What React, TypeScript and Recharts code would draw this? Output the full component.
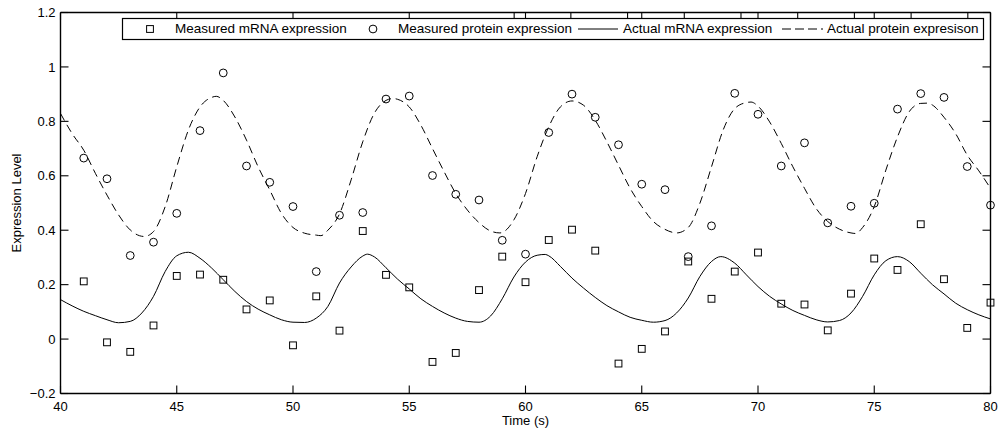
import {
  ComposedChart,
  Line,
  ReferenceLine,
  Scatter,
  XAxis,
  YAxis,
} from "recharts";

// measured samples, one per second
const MEASURED_T = [
  41, 42, 43, 44, 45, 46, 47, 48, 49, 50,
  51, 52, 53, 54, 55, 56, 57, 58, 59, 60,
  61, 62, 63, 64, 65, 66, 67, 68, 69, 70,
  71, 72, 73, 74, 75, 76, 77, 78, 79, 80,
];
const MRNA_MEASURED = [
  0.212, -0.012, -0.047, 0.05, 0.232, 0.237, 0.218, 0.109, 0.142, -0.023,
  0.157, 0.031, 0.397, 0.236, 0.19, -0.084, -0.051, 0.18, 0.303, 0.209,
  0.364, 0.402, 0.325, -0.09, -0.036, 0.028, 0.285, 0.148, 0.248, 0.318,
  0.13, 0.127, 0.032, 0.167, 0.296, 0.254, 0.422, 0.22, 0.041, 0.134,
];
const PROTEIN_MEASURED = [
  0.665, 0.589, 0.307, 0.356, 0.462, 0.766, 0.978, 0.636, 0.576, 0.487,
  0.248, 0.455, 0.465, 0.882, 0.893, 0.601, 0.532, 0.511, 0.363, 0.312,
  0.759, 0.9, 0.815, 0.714, 0.569, 0.549, 0.303, 0.416, 0.903, 0.826,
  0.636, 0.721, 0.427, 0.488, 0.499, 0.845, 0.902, 0.888, 0.634, 0.492,
];

// "actual" model curves
const MRNA_CURVE_T = [
  40, 40.5, 41, 41.5, 42, 42.5, 43, 43.5, 44, 44.5, 45, 45.5, 46, 46.5, 47, 47.5,
  48, 48.5, 49, 49.5, 50, 50.5, 51, 51.5, 52, 52.5, 53, 53.2, 53.5, 54, 54.5, 55,
  55.5, 56, 56.5, 57, 57.5, 58, 58.5, 59, 59.5, 60, 60.5, 60.85, 61, 61.5, 62,
  62.5, 63, 63.5, 64, 64.5, 65, 65.5, 66, 66.5, 67, 67.5, 68, 68.4, 69, 69.5, 70,
  70.5, 71, 71.5, 72, 72.5, 73, 73.5, 74, 74.5, 75, 75.5, 76, 76.5, 77, 77.5, 78,
  78.5, 79, 79.5, 80,
];
const MRNA_CURVE = [
  0.145, 0.122, 0.102, 0.086, 0.071, 0.06, 0.065, 0.096, 0.157, 0.248, 0.306, 0.319, 0.297, 0.261, 0.218, 0.175,
  0.138, 0.11, 0.089, 0.071, 0.062, 0.061, 0.077, 0.12, 0.206, 0.265, 0.305, 0.312, 0.302, 0.262, 0.22, 0.184,
  0.148, 0.12, 0.096, 0.077, 0.065, 0.062, 0.085, 0.148, 0.228, 0.283, 0.308, 0.311, 0.306, 0.267, 0.224,
  0.187, 0.153, 0.123, 0.1, 0.08, 0.069, 0.062, 0.068, 0.096, 0.151, 0.23, 0.285, 0.303, 0.279, 0.236, 0.193,
  0.157, 0.129, 0.105, 0.087, 0.071, 0.063, 0.068, 0.096, 0.157, 0.236, 0.288, 0.303, 0.285, 0.242, 0.2, 0.166,
  0.132, 0.108, 0.089, 0.074,
];
const PROTEIN_CURVE_T = [
  40, 40.5, 41, 41.5, 42, 42.5, 43, 43.6, 44, 44.5, 45, 45.5, 46, 46.5, 46.7, 47,
  47.5, 48, 48.5, 49, 49.5, 50, 50.5, 51, 51.2, 51.5, 52, 52.5, 53, 53.5, 54, 54.3,
  54.5, 55, 55.5, 56, 56.5, 57, 57.5, 58, 58.5, 58.9, 59.5, 60, 60.5, 61, 61.5, 62,
  62.5, 63, 63.5, 64, 64.5, 65, 65.5, 66, 66.5, 67, 67.5, 68, 68.5, 69, 69.5, 69.7,
  70, 70.5, 71, 71.5, 72, 72.5, 73, 73.5, 74, 74.2, 74.5, 75, 75.5, 76, 76.5, 77,
  77.3, 77.5, 78, 78.5, 79, 79.5, 80,
];
const PROTEIN_CURVE = [
  0.829, 0.755, 0.694, 0.609, 0.529, 0.456, 0.401, 0.377, 0.395, 0.486, 0.633, 0.768, 0.853, 0.888, 0.892, 0.877,
  0.816, 0.731, 0.633, 0.548, 0.462, 0.41, 0.389, 0.382, 0.38, 0.4, 0.46, 0.585, 0.725, 0.83, 0.877, 0.884,
  0.881, 0.853, 0.786, 0.7, 0.615, 0.535, 0.474, 0.428, 0.397, 0.39, 0.438, 0.535, 0.67, 0.78, 0.853, 0.875,
  0.859, 0.804, 0.725, 0.639, 0.554, 0.487, 0.432, 0.403, 0.39, 0.41, 0.499, 0.633, 0.768, 0.847, 0.869, 0.871,
  0.856, 0.798, 0.719, 0.633, 0.554, 0.48, 0.432, 0.404, 0.39, 0.388, 0.41, 0.487, 0.621, 0.743, 0.835, 0.866,
  0.867, 0.86, 0.815, 0.755, 0.676, 0.618, 0.554,
];

const X_TICKS = [40, 45, 50, 55, 60, 65, 70, 75, 80];
const Y_TICKS = [-0.2, 0, 0.2, 0.4, 0.6, 0.8, 1, 1.2];

const FONT = "'Liberation Sans', Arial, Helvetica, sans-serif";
const INK = "#000";

const mrnaPoints = MEASURED_T.map((t, i) => ({ t, v: MRNA_MEASURED[i] }));
const proteinPoints = MEASURED_T.map((t, i) => ({ t, v: PROTEIN_MEASURED[i] }));
const mrnaCurve = MRNA_CURVE_T.map((t, i) => ({ t, v: MRNA_CURVE[i] }));
const proteinCurve = PROTEIN_CURVE_T.map((t, i) => ({ t, v: PROTEIN_CURVE[i] }));

const fmtY = (v: number) => String(Math.round(v * 10) / 10).replace("-", "\u2212");

const SquareMark = (p: any) => (
  <rect x={p.cx - 3.4} y={p.cy - 3.4} width={6.8} height={6.8} fill="none" stroke={INK} strokeWidth={1} />
);
const CircleMark = (p: any) => (
  <circle cx={p.cx} cy={p.cy} r={3.9} fill="none" stroke={INK} strokeWidth={1} />
);

function LegendBox() {
  const ty = 15.8;
  const txt = { fontFamily: FONT, fontSize: 13.5, fill: INK };
  return (
    <svg width={864} height={24} style={{ position: "absolute", left: 121, top: 17 }}>
      <rect x={1.5} y={1.5} width={861} height={21} fill="#fff" stroke={INK} strokeWidth={1.2} />
      <rect x={25.6} y={8.6} width={6.8} height={6.8} fill="none" stroke={INK} />
      <text x={54} y={ty} {...txt}>Measured mRNA expression</text>
      <circle cx={252} cy={12} r={3.9} fill="none" stroke={INK} />
      <text x={277} y={ty} {...txt}>Measured protein expression</text>
      <line x1={457} y1={12} x2={497} y2={12} stroke={INK} />
      <text x={502} y={ty} {...txt}>Actual mRNA expression</text>
      <line x1={661} y1={12} x2={702} y2={12} stroke={INK} strokeDasharray="9 4" />
      <text x={706} y={ty} {...txt}>Actual protein expresison</text>
    </svg>
  );
}

const axisStyle = { stroke: INK, strokeWidth: 1.4 };
const tickLineStyle = { stroke: INK, strokeWidth: 1.1 };

export default function App() {
  const tickStyle = { fontFamily: FONT, fontSize: 13, fill: INK };
  return (
    <div style={{ position: "absolute", left: 0, top: 0, width: 998, height: 430, background: "#fff" }}>
      <ComposedChart
        width={998}
        height={430}
        margin={{ top: 11.5, right: 6.5, bottom: 0, left: 0 }}
        style={{ fontFamily: FONT }}
      >
        <XAxis
          xAxisId="b"
          dataKey="t"
          type="number"
          domain={[40, 80]}
          ticks={X_TICKS}
          height={36.5}
          stroke={INK}
          tickSize={-8}
          tickMargin={16.5}
          tick={tickStyle}
          axisLine={axisStyle}
          tickLine={tickLineStyle}
          label={{ value: "Time (s)", position: "insideBottom", offset: 5, style: { fontFamily: FONT, fontSize: 13, fill: INK } }}
        />
        <XAxis
          xAxisId="t"
          orientation="top"
          type="number"
          domain={[40, 80]}
          ticks={X_TICKS}
          height={1}
          stroke={INK}
          tickSize={-8}
          tickFormatter={() => ""}
          axisLine={axisStyle}
          tickLine={tickLineStyle}
        />
        <YAxis
          yAxisId="l"
          dataKey="v"
          type="number"
          domain={[-0.2, 1.2]}
          ticks={Y_TICKS}
          width={60.5}
          stroke={INK}
          tickSize={-8}
          tickMargin={13}
          tick={tickStyle}
          tickFormatter={fmtY}
          axisLine={axisStyle}
          tickLine={tickLineStyle}
          label={{
            value: "Expression Level",
            angle: -90,
            position: "insideLeft",
            offset: 16,
            style: { textAnchor: "middle", fontFamily: FONT, fontSize: 13, fill: INK },
          }}
        />
        <YAxis
          yAxisId="r"
          orientation="right"
          type="number"
          domain={[-0.2, 1.2]}
          ticks={Y_TICKS}
          width={1}
          stroke={INK}
          tickSize={-8}
          tickFormatter={() => ""}
          axisLine={axisStyle}
          tickLine={tickLineStyle}
        />
        {/* inward tick marks along the top edge */}
        {X_TICKS.map((t) => (
          <ReferenceLine
            key={t}
            xAxisId="b"
            yAxisId="l"
            segment={[{ x: t, y: 1.2 }, { x: t, y: 1.171 }]}
            stroke={INK}
            strokeWidth={1.1}
            ifOverflow="visible"
          />
        ))}
        <Line
          xAxisId="b"
          yAxisId="l"
          data={mrnaCurve}
          dataKey="v"
          type="monotone"
          stroke={INK}
          strokeWidth={1}
          dot={false}
          activeDot={false}
          isAnimationActive={false}
        />
        <Line
          xAxisId="b"
          yAxisId="l"
          data={proteinCurve}
          dataKey="v"
          type="monotone"
          stroke={INK}
          strokeWidth={1}
          strokeDasharray="8 5"
          dot={false}
          activeDot={false}
          isAnimationActive={false}
        />
        <Line
          xAxisId="t"
          yAxisId="r"
          data={mrnaCurve}
          dataKey="v"
          stroke="none"
          dot={false}
          activeDot={false}
          isAnimationActive={false}
        />
        <Scatter
          xAxisId="b"
          yAxisId="l"
          data={mrnaPoints}
          dataKey="v"
          shape={SquareMark}
          isAnimationActive={false}
        />
        <Scatter
          xAxisId="b"
          yAxisId="l"
          data={proteinPoints}
          dataKey="v"
          shape={CircleMark}
          isAnimationActive={false}
        />
      </ComposedChart>
      <LegendBox />
    </div>
  );
}
